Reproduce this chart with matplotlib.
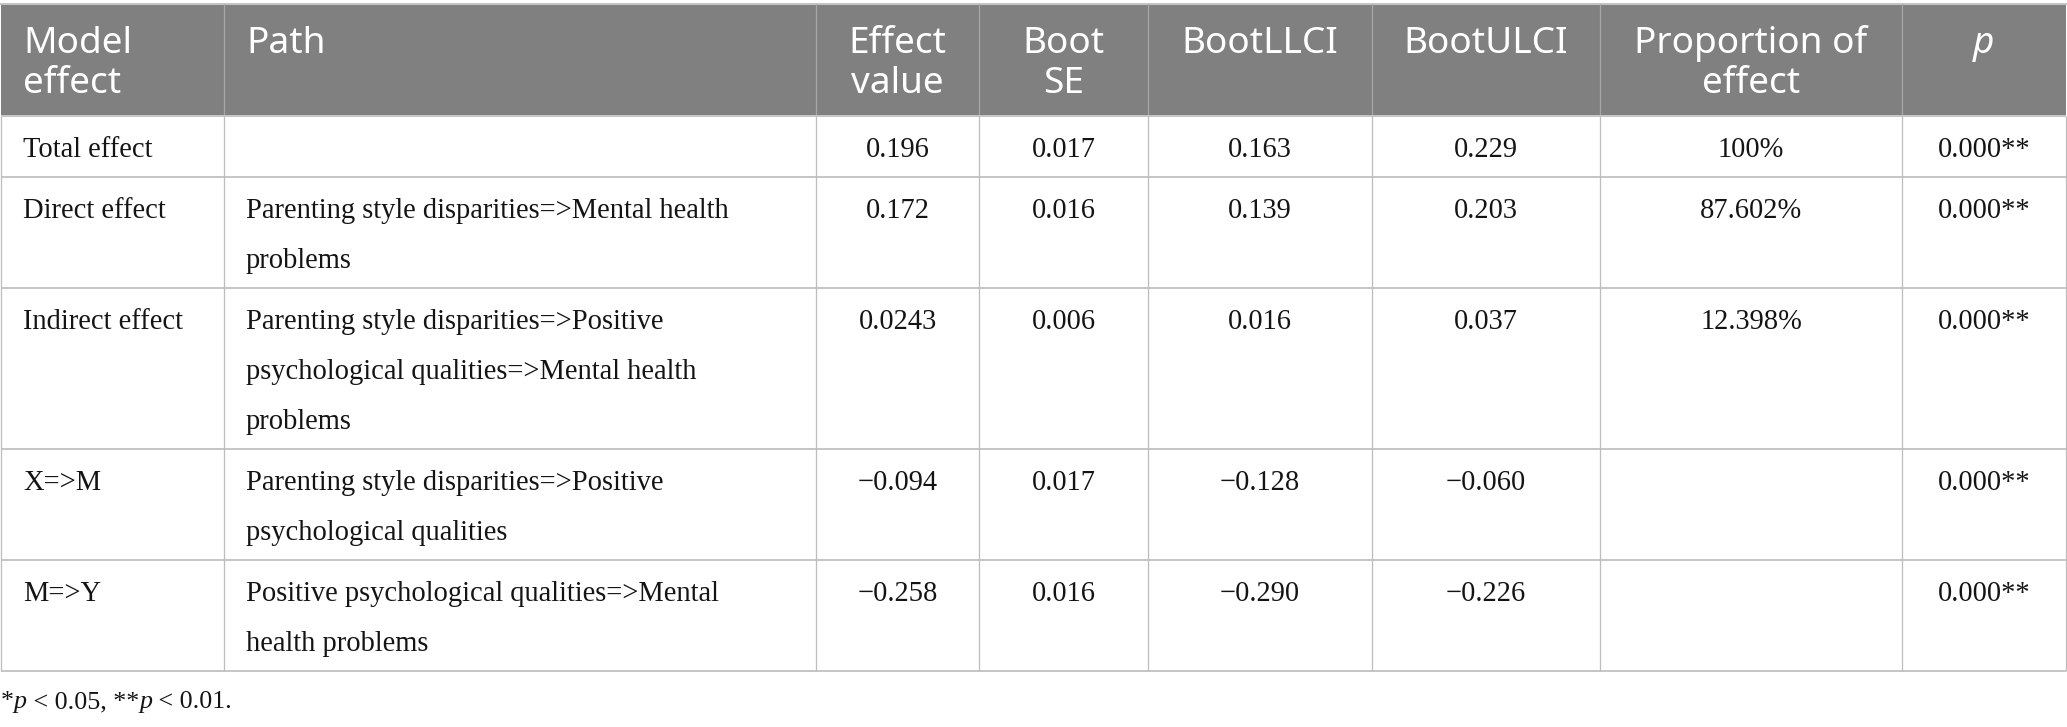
#!/usr/bin/env python3

import textwrap
import matplotlib
matplotlib.use('Agg')
import matplotlib.pyplot as plt
from matplotlib.patches import Rectangle

# table content
headers = ['Model\neffect', 'Path', 'Effect\nvalue', 'Boot\nSE', 'BootLLCI',
           'BootULCI', 'Proportion of\neffect', 'p']
model_effect = ['Total effect', 'Direct effect', 'Indirect effect', 'X=>M', 'M=>Y']
paths = ['',
         'Parenting style disparities=>Mental health problems',
         'Parenting style disparities=>Positive psychological qualities=>Mental health problems',
         'Parenting style disparities=>Positive psychological qualities',
         'Positive psychological qualities=>Mental health problems']
effect_value = ['0.196', '0.172', '0.0243', '\u22120.094', '\u22120.258']
boot_se = ['0.017', '0.016', '0.006', '0.017', '0.016']
boot_llci = ['0.163', '0.139', '0.016', '\u22120.128', '\u22120.290']
boot_ulci = ['0.229', '0.203', '0.037', '\u22120.060', '\u22120.226']
proportion = ['100%', '87.602%', '12.398%', '', '']
p_values = ['0.000**', '0.000**', '0.000**', '0.000**', '0.000**']

W, H = 2067, 727
DPI = 100
PX = 72 / DPI  # points per pixel

col_edges = [1, 224, 816, 979, 1148, 1372, 1600, 1902, 2066]
head_top, head_bot = 4, 116
pad = 22
body_font = 'Liberation Serif'
head_font = 'Noto Sans'
body_size = 28.5 * PX
foot_size = 26 * PX
head_size = 37 * PX

fig = plt.figure(figsize=(W / DPI, H / DPI), dpi=DPI)
ax = fig.add_axes([0, 0, 1, 1])
ax.set_xlim(0, W)
ax.set_ylim(H, 0)
ax.axis('off')

# header
ax.add_patch(Rectangle((col_edges[0], head_top), col_edges[-1] - col_edges[0],
                       head_bot - head_top, facecolor='#808080', edgecolor='none'))
ax.plot([col_edges[0], col_edges[-1]], [head_top, head_top], color='#c4c4c4', lw=2 * PX)
for x in col_edges[1:-1]:
    ax.plot([x, x], [head_top, head_bot], color='#a8a8a8', lw=1.2 * PX)

for i, h in enumerate(headers):
    left = i < 2
    x = col_edges[i] + pad if left else (col_edges[i] + col_edges[i + 1]) / 2
    for k, line in enumerate(h.split('\n')):
        ax.text(x, 53 + 40 * k, line, family=head_font, size=head_size, color='white',
                ha='left' if left else 'center', va='baseline',
                style='italic' if h == 'p' else 'normal')

# body
columns = [model_effect, paths, effect_value, boot_se, boot_llci, boot_ulci,
           proportion, p_values]
wrapped = [textwrap.wrap(p, 42) for p in paths]
y = head_bot
row_edges = [y]
for r in range(len(model_effect)):
    n = max(1, len(wrapped[r]))
    y0 = y
    for i, col in enumerate(columns):
        lines = wrapped[r] if i == 1 else [col[r]]
        left = i < 2
        x = col_edges[i] + pad if left else (col_edges[i] + col_edges[i + 1]) / 2
        for k, line in enumerate(lines):
            ax.text(x, y0 + 41 + 50 * k, line, family=body_font, size=body_size,
                    color='#141414', ha='left' if left else 'center', va='baseline')
    y = y0 + 61 + 50 * (n - 1)
    row_edges.append(y)

for ry in row_edges:
    ax.plot([col_edges[0], col_edges[-1]], [ry, ry], color='#c6c6c6', lw=2 * PX,
            solid_capstyle='butt')
for x in col_edges:
    ax.plot([x, x], [head_bot, row_edges[-1]], color='#bdbdbd', lw=1.3 * PX,
            solid_capstyle='butt')

# footnote with italic p
renderer = fig.canvas.get_renderer()
parts = [('*', 'normal'), ('p', 'italic'), (' < 0.05, **', 'normal'),
         ('p', 'italic'), (' < 0.01.', 'normal')]
fx = 1
for txt, st in parts:
    t = ax.text(fx, 708, txt, family=body_font, size=foot_size, style=st,
                color='#141414', ha='left', va='baseline')
    bb = t.get_window_extent(renderer)
    fx = bb.x1

fig.savefig('out.png', dpi=DPI)
